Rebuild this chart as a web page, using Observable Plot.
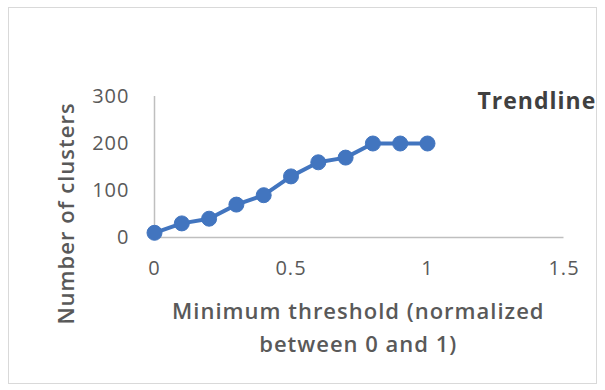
<!DOCTYPE html>
<html>
<head>
<meta charset="utf-8">
<script src="https://cdn.jsdelivr.net/npm/d3@7"></script>
<script src="https://cdn.jsdelivr.net/npm/@observablehq/plot@0.6"></script>
<style>
  html, body { margin: 0; padding: 0; background: #fff; }
  #wrap { position: relative; width: 605px; height: 390px; overflow: hidden; }
  #border { position: absolute; left: 8px; top: 7px; width: 589px; height: 377px; border: 1px solid #d9d9d9; box-sizing: border-box; }
  #chart { position: absolute; left: 0; top: 0; }
  #chart svg text { letter-spacing: 1px; }
</style>
</head>
<body>
<div id="wrap"><div id="border"></div><div id="chart"></div></div>
<script>
const thresholds = [0, 0.1, 0.2, 0.3, 0.4, 0.5, 0.6, 0.7, 0.8, 0.9, 1];
const clusters = [10, 30, 40, 70, 90, 130, 160, 170, 200, 200, 200];
const xTicks = [0, 0.5, 1, 1.5];
const yTicks = [0, 100, 200, 300];
const xTitle = "Minimum threshold (normalized\nbetween 0 and 1)";
const yTitle = "Number of clusters";
const legendLabel = "Trendline";

const data = thresholds.map((t, i) => ({x: t, y: clusters[i]}));
const blue = "#4275bf";
const grey = "#595959";

const chart = Plot.plot({
  width: 605,
  height: 390,
  marginLeft: 154,
  marginRight: 41.5,
  marginTop: 96,
  marginBottom: 153,
  style: {fontFamily: "'Open Sans', sans-serif", background: "transparent", overflow: "visible"},
  x: {domain: [0, 1.5], ticks: xTicks, tickFormat: d => String(d)},
  y: {domain: [0, 300], ticks: yTicks, tickFormat: d => String(d)},
  marks: [
    Plot.ruleX([0], {stroke: "#bfbfbf", strokeWidth: 1.5}),
    Plot.ruleY([0], {stroke: "#bfbfbf", strokeWidth: 1.5}),
    Plot.axisX({ticks: xTicks, tickSize: 0, tickPadding: 23, fontSize: 20, fill: grey, label: null, tickFormat: d => String(d)}),
    Plot.axisY({ticks: yTicks, tickSize: 0, tickPadding: 25, fontSize: 20, fill: grey, label: null, tickFormat: d => String(d)}),
    Plot.line(data, {x: "x", y: "y", stroke: blue, strokeWidth: 4}),
    Plot.dot(data, {x: "x", y: "y", r: 7.5, fill: blue, stroke: blue, strokeWidth: 1}),
    Plot.text([yTitle], {text: d => d, frameAnchor: "left", rotate: -90, dx: -88, dy: 46.5, fontSize: 22, fontWeight: 600, fill: grey, textAnchor: "middle", lineAnchor: "middle"}),
    Plot.text([xTitle], {text: d => d, frameAnchor: "bottom", dy: 87.5, dx: -1, fontSize: 22, fontWeight: 600, fill: grey, textAnchor: "middle", lineAnchor: "middle", lineHeight: 1.52}),
    Plot.text([legendLabel], {text: d => d, frameAnchor: "top-right", dx: -86.5, dy: 5, fontSize: 23, fontWeight: 700, fill: "#404040", textAnchor: "start", lineAnchor: "middle"})
  ]
});
document.getElementById("chart").appendChild(chart);
</script>
</body>
</html>
